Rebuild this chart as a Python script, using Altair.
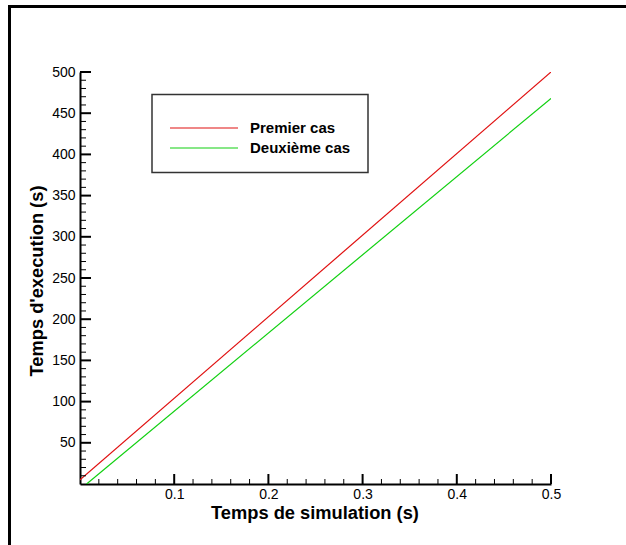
import altair as alt
import pandas as pd

# Series data
red_t = [0.0, 0.5]
red_v = [5, 500]
green_t = [0.007, 0.5]
green_v = [0, 468]
series_names = ["Premier cas", "Deuxième cas"]
series_colors = ["#e01010", "#10d010"]

# Tick values
x_major = [0.1, 0.2, 0.3, 0.4, 0.5]
x_minor = [0.02, 0.04, 0.06, 0.08, 0.12, 0.14, 0.16, 0.18, 0.22, 0.24, 0.26, 0.28,
           0.32, 0.34, 0.36, 0.38, 0.42, 0.44, 0.46, 0.48]
y_major = [50, 100, 150, 200, 250, 300, 350, 400, 450, 500]
y_minor = [10, 20, 30, 40, 60, 70, 80, 90, 110, 120, 130, 140, 160, 170, 180, 190,
           210, 220, 230, 240, 260, 270, 280, 290, 310, 320, 330, 340, 360, 370, 380, 390,
           410, 420, 430, 440, 460, 470, 480, 490]

FONT = "Liberation Sans"
W, H = 471, 412

df = pd.concat([
    pd.DataFrame({"t": red_t, "v": red_v, "s": series_names[0]}),
    pd.DataFrame({"t": green_t, "v": green_v, "s": series_names[1]}),
])

xscale = alt.Scale(domain=[0, 0.5], nice=False, zero=False)
yscale = alt.Scale(domain=[0, 500], nice=False, zero=False)

xaxis = alt.Axis(values=x_major, format=".1f", ticks=False, grid=False,
                 domainColor="black", domainWidth=2, labelFont=FONT, labelFontSize=14,
                 labelColor="black", labelPadding=3,
                 title="Temps de simulation (s)", titleFont=FONT, titleFontSize=18.3,
                 titleFontWeight="bold", titleColor="black", titleX=234.5, titleY=34,
                 titleBaseline="alphabetic", titleAlign="center", labelFlush=False)
yaxis = alt.Axis(values=y_major, format="d", ticks=False, grid=False,
                 domainColor="black", domainWidth=2, labelFont=FONT, labelFontSize=14,
                 labelColor="black", labelPadding=5,
                 title="Temps d'execution (s)", titleFont=FONT, titleFontSize=18.3,
                 titleFontWeight="bold", titleColor="black", titleX=-38, titleY=208.5,
                 titleAngle=-90, titleBaseline="alphabetic", titleAlign="center",
                 labelFlush=False)

color = alt.Color("s:N", scale=alt.Scale(domain=series_names, range=series_colors), legend=None)

lines = alt.Chart(df).mark_line(strokeWidth=1.2, clip=True).encode(
    x=alt.X("t:Q", scale=xscale, axis=xaxis),
    y=alt.Y("v:Q", scale=yscale, axis=yaxis),
    color=color,
    detail="s:N",
)

xmaj = alt.Chart(pd.DataFrame({"t": x_major})).mark_rule(color="black", strokeWidth=2).encode(
    x=alt.X("t:Q", scale=xscale, axis=xaxis), y=alt.value(H), y2=alt.value(H - 10))
xmin = alt.Chart(pd.DataFrame({"t": x_minor})).mark_rule(color="black", strokeWidth=1).encode(
    x=alt.X("t:Q", scale=xscale, axis=xaxis), y=alt.value(H), y2=alt.value(H - 5))
ymaj = alt.Chart(pd.DataFrame({"v": y_major})).mark_rule(color="black", strokeWidth=2).encode(
    y=alt.Y("v:Q", scale=yscale, axis=yaxis), x=alt.value(0), x2=alt.value(11))
ymin = alt.Chart(pd.DataFrame({"v": y_minor})).mark_rule(color="black", strokeWidth=1).encode(
    y=alt.Y("v:Q", scale=yscale, axis=yaxis), x=alt.value(0), x2=alt.value(6))

one = pd.DataFrame({"a": [0]})
# outer frame (top and left edges)
frame_top = alt.Chart(one).mark_rule(color="black", strokeWidth=3).encode(
    x=alt.value(-72), x2=alt.value(546), y=alt.value(-65.5))
frame_left = alt.Chart(one).mark_rule(color="black", strokeWidth=3).encode(
    x=alt.value(-70.5), y=alt.value(-67), y2=alt.value(473))

# legend
leg_box = alt.Chart(one).mark_rect(fill="white", stroke="#333333", strokeWidth=1.5).encode(
    x=alt.value(72), x2=alt.value(288), y=alt.value(22.5), y2=alt.value(100.5))
leg_l1 = alt.Chart(one).mark_rule(color=series_colors[0], strokeWidth=1.2).encode(
    x=alt.value(90), x2=alt.value(158), y=alt.value(56))
leg_l2 = alt.Chart(one).mark_rule(color=series_colors[1], strokeWidth=1.2).encode(
    x=alt.value(90), x2=alt.value(158), y=alt.value(76))
leg_t1 = alt.Chart(one).mark_text(text=series_names[0], font=FONT, fontSize=15, fontWeight="bold",
                                  align="left", baseline="middle", color="black").encode(
    x=alt.value(170), y=alt.value(56))
leg_t2 = alt.Chart(one).mark_text(text=series_names[1], font=FONT, fontSize=15, fontWeight="bold",
                                  align="left", baseline="middle", color="black").encode(
    x=alt.value(170), y=alt.value(76))

chart = alt.layer(
    lines, xmaj, xmin, ymaj, ymin, frame_top, frame_left,
    leg_box, leg_l1, leg_l2, leg_t1, leg_t2,
).properties(
    width=W, height=H,
    autosize=alt.AutoSizeParams(type="none"),
    padding={"left": 80, "top": 72, "right": 75, "bottom": 61},
    background="white",
).configure_view(stroke=None)

chart.save("out.html", embed_options={"renderer": "svg", "actions": False})
